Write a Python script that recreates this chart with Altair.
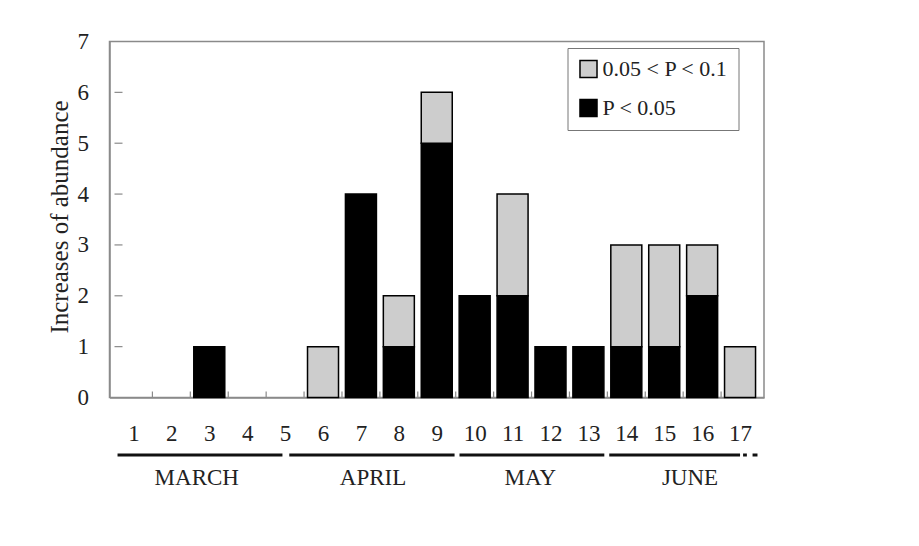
import altair as alt
import pandas as pd

# ---- data ----
categories = list(range(1, 18))
sig_values = [0, 0, 1, 0, 0, 0, 4, 1, 5, 2, 2, 1, 1, 1, 1, 2, 0]      # P < 0.05
marg_values = [0, 0, 0, 0, 0, 1, 0, 1, 1, 0, 2, 0, 0, 2, 2, 1, 1]     # 0.05 < P < 0.1
series_names = ["0.05 < P < 0.1", "P < 0.05"]
y_ticks = [0, 1, 2, 3, 4, 5, 6, 7]

month_names = ["MARCH", "APRIL", "MAY", "JUNE"]
month_label_at = [2.67, 7.32, 11.47, 15.68]
seg_start = [0.58, 5.11, 9.60, 13.55, 17.08, 17.33]
seg_end = [4.93, 9.47, 13.42, 17.00, 17.18, 17.46]
boundaries = [c + 0.5 for c in categories[:-1]]

FONT = "Liberation Serif"
TXT = "#222222"
FRAME = "#8a8a8a"

rows = []
for c, s, m in zip(categories, sig_values, marg_values):
    if s > 0:
        rows.append({"cat": c, "series": series_names[1], "low": 0, "high": s, "ord": 0})
    if m > 0:
        rows.append({"cat": c, "series": series_names[0], "low": s, "high": s + m, "ord": 1})
bars_df = pd.DataFrame(rows)

xscale = alt.Scale(domain=[0.5, 17.5], nice=False, zero=False)
yscale = alt.Scale(domain=[0, 7], nice=False)

bars = alt.Chart(bars_df).mark_bar(size=31, stroke="black", strokeWidth=1.5).encode(
    x=alt.X("cat:Q", scale=xscale,
            axis=alt.Axis(values=categories, title=None, ticks=False, grid=False,
                          labelFontSize=23, labelFont=FONT, labelColor=TXT,
                          labelPadding=25, domainColor=FRAME, domainWidth=1.5,
                          labelFlush=False)),
    y=alt.Y("low:Q", scale=yscale,
            axis=alt.Axis(values=y_ticks, title="Increases of abundance", ticks=False,
                          grid=False, labelFontSize=23, labelFont=FONT, labelColor=TXT,
                          labelPadding=21, domainColor=FRAME, domainWidth=1.5,
                          titleFont=FONT, titleFontSize=25, titleColor=TXT,
                          titleFontWeight="normal", titleAngle=270,
                          titleX=-50, titleY=175, titleBaseline="middle",
                          titleAlign="center")),
    y2="high:Q",
    color=alt.Color("series:N",
                    scale=alt.Scale(domain=series_names, range=["#cdcdcd", "#000000"]),
                    legend=alt.Legend(title=None, orient="none", legendX=458, legendY=6.5,
                                      strokeColor="#777777", fillColor="white",
                                      padding=10, labelFontSize=22, labelFont=FONT,
                                      labelColor=TXT, symbolType="square", symbolSize=290,
                                      symbolStrokeColor="black", symbolStrokeWidth=1.5,
                                      symbolOpacity=1, rowPadding=15, labelOffset=3)),
    order=alt.Order("ord:Q"),
)

ytick_df = pd.DataFrame({"v": y_ticks[1:-1]})
yticks = alt.Chart(ytick_df).mark_rule(color=FRAME, strokeWidth=1.2, x2Offset=8).encode(
    x=alt.datum(0.5, scale=xscale), x2=alt.datum(0.5), y=alt.Y("v:Q", scale=yscale)
)

xtick_df = pd.DataFrame({"b": boundaries})
xticks = alt.Chart(xtick_df).mark_rule(color=FRAME, strokeWidth=1.2, y2Offset=-6).encode(
    x=alt.X("b:Q", scale=xscale), y=alt.datum(0, scale=yscale), y2=alt.datum(0)
)

seg_df = pd.DataFrame({"s": seg_start, "e": seg_end})
segs = alt.Chart(seg_df).mark_rule(color="#111111", strokeWidth=3).encode(
    x=alt.X("s:Q", scale=xscale), x2="e:Q", y=alt.value(413.5)
)

mon_df = pd.DataFrame({"name": month_names, "at": month_label_at})
months = alt.Chart(mon_df).mark_text(font=FONT, fontSize=23, color=TXT, baseline="middle",
                                     align="center").encode(
    x=alt.X("at:Q", scale=xscale), y=alt.value(436.5), text="name:N"
)

chart = alt.layer(bars, yticks, xticks, segs, months).properties(
    width=654.5, height=356,
    autosize=alt.AutoSizeParams(type="none"),
    padding={"left": 101.5, "top": 33.5, "right": 146, "bottom": 139},
    background="white",
).configure_view(stroke=FRAME, strokeWidth=1.5)

chart.save("out.html", embed_options={"renderer": "svg", "actions": False})
